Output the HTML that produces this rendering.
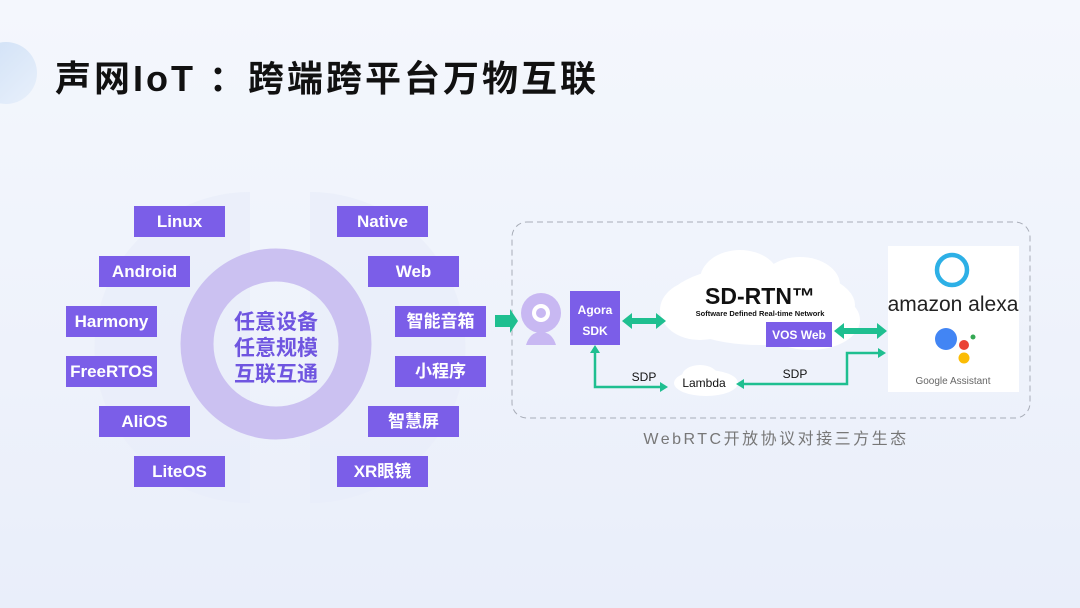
<!DOCTYPE html>
<html><head><meta charset="utf-8"><style>
html,body{margin:0;padding:0}
body{width:1080px;height:608px;overflow:hidden;background:linear-gradient(180deg,#f4f7fd 0%,#eef2fb 60%,#e9eefa 100%);font-family:"Liberation Sans","Noto Sans CJK SC",sans-serif;position:relative}
.t{position:absolute;left:55px;top:50px;font-size:36px;font-weight:bold;color:#111;letter-spacing:3px;white-space:nowrap}
.b{position:absolute;width:91px;height:31px;background:#7b5ee8;color:#fff;font-weight:bold;font-size:17px;line-height:31px;text-align:center;font-family:"Liberation Sans","Noto Sans CJK SC",sans-serif}
</style></head><body>
<div style="position:absolute;left:-25px;top:42px;width:62px;height:62px;border-radius:50%;background:linear-gradient(135deg,#cfe0f6,#e8f0fb)"></div>
<div class="t">声网IoT ：跨端跨平台万物互联</div>
<svg width="1080" height="608" style="position:absolute;left:0;top:0">
<path d="M250 192 A150 150 0 0 0 250 503 Z" fill="#e8edf9" opacity=".7"/>
<path d="M310 192 A150 150 0 0 1 310 503 Z" fill="#e8edf9" opacity=".7"/>
<circle cx="276" cy="344" r="79" fill="none" stroke="#cbc1f1" stroke-width="33"/>
<text x="276" y="329" text-anchor="middle" font-size="21" font-weight="bold" fill="#6f55e0" font-family="Noto Sans CJK SC">任意设备</text>
<text x="276" y="355" text-anchor="middle" font-size="21" font-weight="bold" fill="#6f55e0" font-family="Noto Sans CJK SC">任意规模</text>
<text x="276" y="381" text-anchor="middle" font-size="21" font-weight="bold" fill="#6f55e0" font-family="Noto Sans CJK SC">互联互通</text>
<rect x="512" y="222" width="518" height="196" rx="15" fill="none" stroke="#a8adb8" stroke-dasharray="6,4"/>
<path d="M495 315 H510 V309 L518 321 L510 333 V327 H495 Z" fill="#1fbf90"/>
<circle cx="541" cy="313" r="20" fill="#c8b8f2"/>
<circle cx="541" cy="313" r="9" fill="#fff"/>
<circle cx="541" cy="313" r="5" fill="#c8b8f2"/>
<path d="M526 345 Q530 332 541 332 Q552 332 556 345 Z" fill="#c8b8f2"/>
<rect x="570" y="291" width="50" height="54" fill="#7b5ee8"/>
<text x="595" y="314" text-anchor="middle" fill="#fff" font-size="12" font-weight="bold">Agora</text>
<text x="595" y="335" text-anchor="middle" fill="#fff" font-size="12" font-weight="bold">SDK</text>
<g fill="#fff">
<ellipse cx="760" cy="305" rx="95" ry="40"/>
<ellipse cx="740" cy="280" rx="40" ry="30"/>
<ellipse cx="800" cy="285" rx="40" ry="28"/>
<ellipse cx="700" cy="310" rx="40" ry="30"/>
<ellipse cx="810" cy="320" rx="50" ry="30"/>
<ellipse cx="706" cy="383" rx="32" ry="13"/>
<ellipse cx="700" cy="376" rx="18" ry="11"/>
</g>
<text x="760" y="304" text-anchor="middle" font-size="23" font-weight="bold" fill="#111">SD-RTN™</text>
<text x="760" y="316" text-anchor="middle" font-size="7.5" font-weight="bold" fill="#111">Software Defined Real-time Network</text>
<rect x="766" y="322" width="66" height="25" fill="#7b5ee8"/>
<text x="799" y="339" text-anchor="middle" fill="#fff" font-size="12" font-weight="bold">VOS Web</text>
<text x="704" y="387" text-anchor="middle" fill="#111" font-size="12">Lambda</text>
<g fill="#1fbf90">
<path d="M622 321 L632 313 V318 H656 V313 L666 321 L656 329 V324 H632 V329 Z"/>
<path d="M834 331 L844 323 V328 H877 V323 L887 331 L877 339 V334 H844 V339 Z"/>
</g>
<g stroke="#1fbf90" stroke-width="2.5" fill="none">
<path d="M595 352 V387 H662"/>
<path d="M742 384 H847 V353 H878"/>
</g>
<g fill="#1fbf90">
<path d="M595 345 L590 353 H600 Z"/>
<path d="M668 387 L660 382 V392 Z"/>
<path d="M736 384 L744 379 V389 Z"/>
<path d="M886 353 L878 348 V358 Z"/>
</g>
<text x="644" y="381" text-anchor="middle" fill="#111" font-size="12">SDP</text>
<text x="795" y="378" text-anchor="middle" fill="#111" font-size="12">SDP</text>
<rect x="888" y="246" width="131" height="146" fill="#fff"/>
<circle cx="952" cy="270" r="15" fill="none" stroke="#2db0e6" stroke-width="4.5"/>
<text x="953" y="311" text-anchor="middle" font-size="21" fill="#222">amazon alexa</text>
<circle cx="946" cy="339" r="11" fill="#4285f4"/>
<circle cx="964" cy="345" r="5" fill="#ea4335"/>
<circle cx="973" cy="337" r="2.5" fill="#34a853"/>
<circle cx="964" cy="358" r="5.5" fill="#fbbc05"/>
<text x="953" y="384" text-anchor="middle" font-size="10" fill="#666">Google Assistant</text>
<text x="776" y="444" text-anchor="middle" font-size="16" fill="#777" letter-spacing="2.5" font-family="Liberation Sans,Noto Sans CJK SC">WebRTC开放协议对接三方生态</text>
</svg>
<div class="b" style="left:134px;top:206px">Linux</div>
<div class="b" style="left:99px;top:256px">Android</div>
<div class="b" style="left:66px;top:306px">Harmony</div>
<div class="b" style="left:66px;top:356px">FreeRTOS</div>
<div class="b" style="left:99px;top:406px">AliOS</div>
<div class="b" style="left:134px;top:456px">LiteOS</div>
<div class="b" style="left:337px;top:206px">Native</div>
<div class="b" style="left:368px;top:256px">Web</div>
<div class="b" style="left:395px;top:306px">智能音箱</div>
<div class="b" style="left:395px;top:356px">小程序</div>
<div class="b" style="left:368px;top:406px">智慧屏</div>
<div class="b" style="left:337px;top:456px">XR眼镜</div>
</body></html>
